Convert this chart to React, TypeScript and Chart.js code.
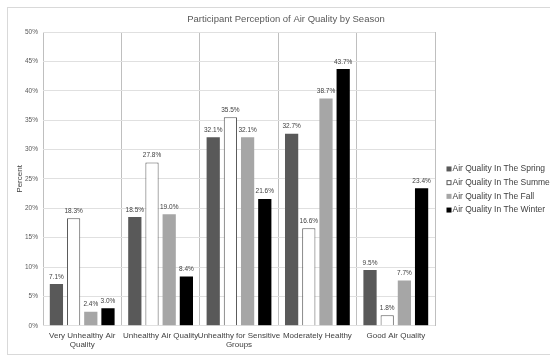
import React, { useEffect, useRef } from "react";
import { Chart, registerables } from "chart.js";

Chart.register(...registerables);

const categories: (string | string[])[] = [
  ["Very Unhealthy Air", "Quality"],
  "Unhealthy Air Quality",
  ["Unhealthy for Sensitive", "Groups"],
  "Moderately Healthy",
  "Good Air Quality",
];
const springValues = [7.1, 18.5, 32.1, 32.7, 9.5];
const summerValues = [18.3, 27.8, 35.5, 16.6, 1.8];
const fallValues = [2.4, 19.0, 32.1, 38.7, 7.7];
const winterValues = [3.0, 8.4, 21.6, 43.7, 23.4];
const seriesNames = [
  "Air Quality In The Spring",
  "Air Quality In The Summer",
  "Air Quality In The Fall",
  "Air Quality In The Winter",
];
const titleText = "Participant Perception of Air Quality by Season";
const yAxisTitle = "Percent";

const FONT = "'Liberation Sans', Arial, sans-serif";
const CW = 550;
const CH = 362;

const framePlugin = {
  id: "frame",
  beforeDraw(chart: any) {
    const ctx = chart.ctx;
    ctx.save();
    ctx.fillStyle = "#ffffff";
    ctx.fillRect(0, 0, chart.width, chart.height);
    ctx.strokeStyle = "#d9d9d9";
    ctx.lineWidth = 1;
    ctx.strokeRect(7.5, 7.5, chart.width + 20, 347);
    ctx.restore();
  },
};

const labelPlugin = {
  id: "barLabels",
  afterDatasetsDraw(chart: any) {
    const ctx = chart.ctx;
    ctx.save();
    ctx.font = `6.5px ${FONT}`;
    ctx.fillStyle = "#404040";
    ctx.textAlign = "center";
    ctx.textBaseline = "bottom";
    chart.data.datasets.forEach((ds: any, i: number) => {
      const meta = chart.getDatasetMeta(i);
      meta.data.forEach((el: any, j: number) => {
        const v = ds.data[j];
        ctx.fillText(`${v.toFixed(1)}%`, el.x, el.y - 4);
      });
    });
    ctx.restore();
  },
};

const legendPlugin = {
  id: "sideLegend",
  afterDraw(chart: any) {
    const ctx = chart.ctx;
    const area = chart.chartArea;
    const boxX = area.right + 11.5;
    const textX = boxX + 6;
    const step = 13.7;
    const n = chart.data.datasets.length;
    const centerY = 189.5;
    const startY = centerY - ((n - 1) * step) / 2;
    ctx.save();
    ctx.font = `8.5px ${FONT}`;
    ctx.textAlign = "left";
    ctx.textBaseline = "middle";
    chart.data.datasets.forEach((ds: any, i: number) => {
      const y = startY + i * step;
      ctx.fillStyle = ds.backgroundColor;
      ctx.fillRect(boxX, y - 2.5, 5, 5);
      if (ds.borderWidth > 0) {
        ctx.strokeStyle = ds.borderColor;
        ctx.lineWidth = 1;
        ctx.strokeRect(boxX + 0.5, y - 2, 4, 4);
      }
      ctx.fillStyle = "#404040";
      ctx.fillText(ds.label, textX, y);
    });
    ctx.restore();
  },
};

export default function App() {
  const ref = useRef<HTMLCanvasElement>(null);
  useEffect(() => {
    if (!ref.current) return;
    const chart = new Chart(ref.current, {
      type: "bar",
      data: {
        labels: categories,
        datasets: [
          { label: seriesNames[0], data: springValues, backgroundColor: "#595959", borderColor: "#595959", borderWidth: 0 },
          { label: seriesNames[1], data: summerValues, backgroundColor: "#ffffff", borderColor: "#595959", borderWidth: 1 },
          { label: seriesNames[2], data: fallValues, backgroundColor: "#a6a6a6", borderColor: "#a6a6a6", borderWidth: 0 },
          { label: seriesNames[3], data: winterValues, backgroundColor: "#000000", borderColor: "#000000", borderWidth: 0 },
        ],
      },
      options: {
        responsive: false,
        animation: false,
        devicePixelRatio: 1,
        categoryPercentage: 0.877,
        barPercentage: 0.77,
        layout: { padding: { top: 5, left: 22, right: 0, bottom: 7 } },
        plugins: {
          title: {
            display: true,
            text: titleText,
            color: "#595959",
            font: { family: FONT, size: 9.5, weight: "normal" },
            padding: { top: 8.3, bottom: 7.3 },
          },
          legend: { display: false },
          tooltip: { enabled: false },
        },
        scales: {
          x: {
            grid: { color: "#bfbfbf", offset: true, drawTicks: false },
            border: { display: false },
            ticks: {
              color: "#404040",
              font: { family: FONT, size: 8 },
              padding: 5,
              maxRotation: 0,
              autoSkip: false,
            },
          },
          y: {
            min: 0,
            max: 50,
            grid: { color: "#e0e0e0", drawTicks: false },
            border: { display: false },
            ticks: {
              stepSize: 5,
              color: "#595959",
              font: { family: FONT, size: 6.5 },
              padding: 5,
              callback: (v: any) => `${v}%`,
            },
            title: {
              display: true,
              text: yAxisTitle,
              color: "#404040",
              font: { family: FONT, size: 8 },
              padding: { top: -7, bottom: 0 },
            },
            afterFit: (scale: any) => {
              scale.width = 21;
            },
          },
          legendGap: {
            type: "linear",
            position: "right",
            display: true,
            grid: { display: false, drawTicks: false },
            border: { display: false },
            ticks: { display: false },
            afterFit: (scale: any) => {
              scale.width = 115;
            },
          },
        },
      },
      plugins: [framePlugin, labelPlugin, legendPlugin],
    });
    return () => chart.destroy();
  }, []);
  return (
    <div style={{ position: "fixed", left: 0, top: 0, width: 550, height: 362, overflow: "hidden", background: "#fff" }}>
      <canvas ref={ref} width={CW} height={CH} style={{ display: "block" }} />
    </div>
  );
}
